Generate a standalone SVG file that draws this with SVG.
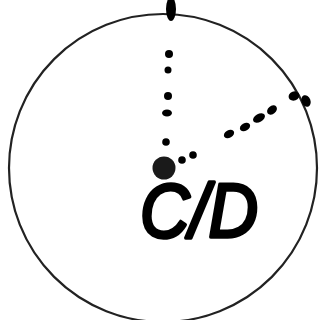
<svg xmlns="http://www.w3.org/2000/svg" width="320" height="320" viewBox="0 0 320 320">
<style>
.dot{fill:#000}
.lbl{font-family:"Liberation Sans",Arial,sans-serif;font-style:italic;font-weight:normal;fill:#000;stroke:#000;stroke-width:3.5;stroke-linejoin:round;stroke-linecap:round}
</style>
<rect width="320" height="320" fill="#fff"/>
<g id="circle">
<circle cx="163" cy="168" r="154" fill="none" stroke="#222" stroke-width="2.2"/>
</g>
<g id="connectors">
<ellipse class="dot" cx="171" cy="9" rx="5" ry="12"/>
<circle class="dot" cx="169" cy="54" r="4"/>
<circle class="dot" cx="168" cy="70" r="3.5"/>
<circle class="dot" cx="168" cy="96" r="4"/>
<ellipse class="dot" cx="167" cy="113" rx="5" ry="3.5"/>
<circle class="dot" cx="166" cy="142" r="3.8"/>
<circle class="dot" cx="182" cy="160" r="3.8"/>
<circle class="dot" cx="193" cy="155" r="3.8"/>
<ellipse class="dot" cx="229" cy="134" rx="5.5" ry="3.8" transform="rotate(-30 229 134)"/>
<ellipse class="dot" cx="245" cy="127" rx="5.5" ry="3.8" transform="rotate(-30 245 127)"/>
<ellipse class="dot" cx="259" cy="118" rx="6.5" ry="4" transform="rotate(-30 259 118)"/>
<ellipse class="dot" cx="272" cy="110" rx="5.5" ry="4" transform="rotate(-40 272 110)"/>
<ellipse class="dot" cx="294" cy="96" rx="5.5" ry="4.5" transform="rotate(-20 294 96)"/>
<ellipse class="dot" cx="306" cy="101" rx="4.5" ry="6" transform="rotate(-20 306 101)"/>
</g>
<g id="center">
<circle cx="164" cy="168" r="11.5" fill="#1a1a1a"/>
</g>
<g id="label">
<text class="lbl" x="140" y="237" font-size="76" textLength="118" lengthAdjust="spacingAndGlyphs">C/D</text>
</g>
</svg>
